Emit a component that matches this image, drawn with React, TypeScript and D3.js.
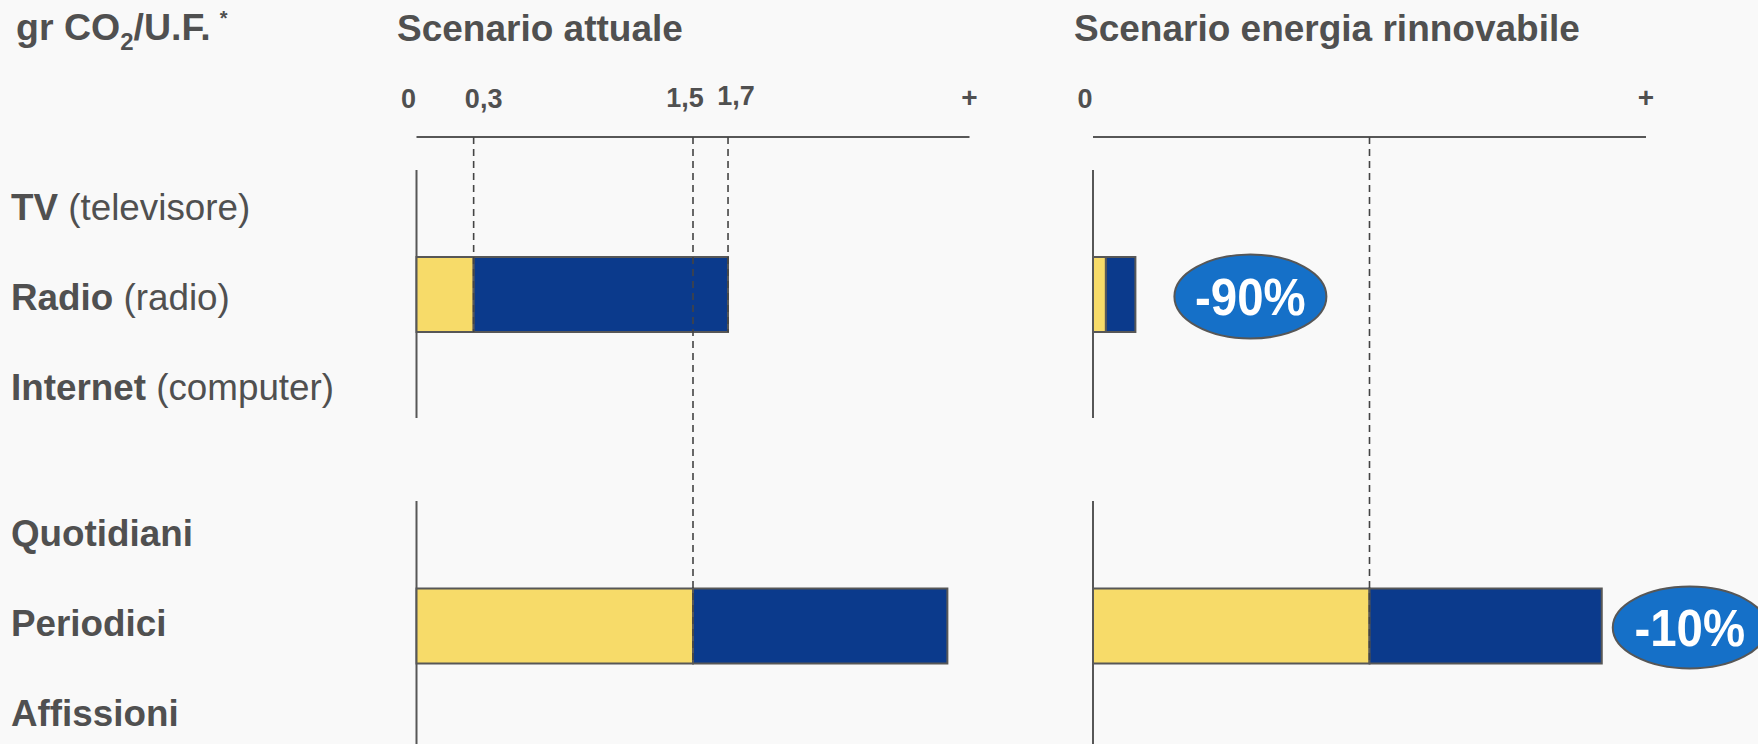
import React, { useEffect } from "react";
import * as d3 from "d3";

// ---------- data ----------
const CATEGORY_BOLD = ["TV", "Radio", "Internet", "Quotidiani", "Periodici", "Affissioni"];
const CATEGORY_NOTE = ["(televisore)", "(radio)", "(computer)", "", "", ""];
const CATEGORY_GROUP = [0, 0, 0, 1, 1, 1];

const SCENARIOS = ["Scenario attuale", "Scenario energia rinnovabile"];
const BAR_CATEGORIES = ["Radio", "Periodici"];

const ATTUALE_YELLOW = [0.31, 1.5];
const ATTUALE_BLUE = [1.38, 1.38];
const RINNOVABILE_YELLOW = [0.07, 1.5];
const RINNOVABILE_BLUE = [0.16, 1.26];

const ATTUALE_TICKS = [0, 0.31, 1.5, 1.69];
const ATTUALE_TICK_LABELS = ["0", "0,3", "1,5", "1,7"];
const RINNOVABILE_TICKS = [0];
const RINNOVABILE_TICK_LABELS = ["0"];
const AXIS_END_LABEL = "+";

const ATTUALE_REF_VALUES = [0.31, 1.5, 1.69];
const ATTUALE_REF_TARGET = ["Radio", "Periodici", "Radio"];
const RINNOVABILE_REF_VALUES = [1.5];
const RINNOVABILE_REF_TARGET = ["Periodici"];

const REDUCTION_LABELS = ["-90%", "-10%"];

const DOMAIN_MAX = 3;

// ---------- style / layout ----------
const W = 1758;
const H = 744;
const TEXT = "#505050";
const LINE = "#575757";
const YELLOW = "#F7DB69";
const BLUE = "#0B3A8C";
const BADGE = "#1570C8";
const BG = "#F9F9F9";
const FONT = "'Liberation Sans', Arial, Helvetica, sans-serif";

const AXIS_Y = 137;
const BAR_H = 75;
const BAR_DY = [-2.5, 3];
const TICK_DX = [-8, 10, -8, 8];
const TICK_DY = [0, 0, -1, -3];
const BADGE_GAP = [39, 11];
const BADGE_RX = [76, 77];
const BADGE_RY = [42, 41];
const BADGE_DY = [2, 1.5];

export default function App() {
  useEffect(() => {
    document.body.style.margin = "0";
  }, []);

  const xAtt = d3.scaleLinear().domain([0, DOMAIN_MAX]).range([416.5, 969.5]);
  const xRin = d3.scaleLinear().domain([0, DOMAIN_MAX]).range([1093, 1646]);

  // row centres: uniform step with an extra gap between the two groups
  const rowIndex = d3.scaleLinear().domain([0, 5]).range([207, 657]);
  const GROUP_GAP = 56;
  const rowY = (name: string) => {
    const i = CATEGORY_BOLD.indexOf(name);
    return rowIndex(i) + CATEGORY_GROUP[i] * GROUP_GAP;
  };
  const barY = (bi: number) => rowY(BAR_CATEGORIES[bi]) + BAR_DY[bi];

  const groupSpans = [
    [170, rowY("Internet") + 31],
    [501, H],
  ];

  const panels = [
    {
      title: SCENARIOS[0],
      titleX: 397,
      x: xAtt,
      yellow: ATTUALE_YELLOW,
      blue: ATTUALE_BLUE,
      ticks: ATTUALE_TICKS,
      tickLabels: ATTUALE_TICK_LABELS,
      refs: ATTUALE_REF_VALUES,
      refTargets: ATTUALE_REF_TARGET,
      badges: [] as string[],
    },
    {
      title: SCENARIOS[1],
      titleX: 1074,
      x: xRin,
      yellow: RINNOVABILE_YELLOW,
      blue: RINNOVABILE_BLUE,
      ticks: RINNOVABILE_TICKS,
      tickLabels: RINNOVABILE_TICK_LABELS,
      refs: RINNOVABILE_REF_VALUES,
      refTargets: RINNOVABILE_REF_TARGET,
      badges: REDUCTION_LABELS,
    },
  ];

  return (
    <svg
      width={W}
      height={H}
      style={{ position: "fixed", left: 0, top: 0, display: "block" }}
      fontFamily={FONT}
    >
      <rect x={0} y={0} width={W} height={H} fill={BG} />

      {/* unit label */}
      <text x={16} y={39.5} fill={TEXT} fontWeight="bold" fontSize={37.5}>
        gr CO
        <tspan fontSize={24} dy={10.5}>2</tspan>
        <tspan dy={-10.5}>/U.F.</tspan>
        <tspan fontSize={20} dx={9} dy={-15}>*</tspan>
      </text>

      {/* category labels */}
      {CATEGORY_BOLD.map((c, i) => (
        <text key={c} x={11} y={rowY(c) + 13} fill={TEXT} fontSize={36.8}>
          <tspan fontWeight="bold">{c}</tspan>
          {CATEGORY_NOTE[i] ? <tspan>{" " + CATEGORY_NOTE[i]}</tspan> : null}
        </text>
      ))}

      {panels.map((p, pi) => {
        const [x0, x1] = p.x.range();
        return (
          <g key={pi}>
            <text x={p.titleX} y={40.5} fill={TEXT} fontWeight="bold" fontSize={37}>
              {p.title}
            </text>

            {/* top axis */}
            <line x1={x0} x2={x1} y1={AXIS_Y} y2={AXIS_Y} stroke={LINE} strokeWidth={2} />
            {p.ticks.map((t, ti) => (
              <text
                key={ti}
                x={p.x(t) + TICK_DX[ti]}
                y={108 + TICK_DY[ti]}
                textAnchor="middle"
                fill={TEXT}
                fontWeight="bold"
                fontSize={27}
              >
                {p.tickLabels[ti]}
              </text>
            ))}
            <text x={x1} y={107} textAnchor="middle" fill={TEXT} fontWeight="bold" fontSize={28}>
              {AXIS_END_LABEL}
            </text>

            {/* group baselines */}
            {groupSpans.map(([a, b], gi) => (
              <line key={gi} x1={x0} x2={x0} y1={a} y2={b} stroke={LINE} strokeWidth={2} />
            ))}

            {/* stacked bars */}
            {BAR_CATEGORIES.map((c, bi) => {
              const cy = barY(bi);
              const yv = p.yellow[bi];
              const total = yv + p.blue[bi];
              return (
                <g key={c}>
                  <rect
                    x={p.x(0)}
                    y={cy - BAR_H / 2}
                    width={p.x(yv) - p.x(0)}
                    height={BAR_H}
                    fill={YELLOW}
                    stroke={LINE}
                    strokeWidth={2}
                  />
                  <rect
                    x={p.x(yv)}
                    y={cy - BAR_H / 2}
                    width={p.x(total) - p.x(yv)}
                    height={BAR_H}
                    fill={BLUE}
                    stroke={LINE}
                    strokeWidth={2}
                  />
                </g>
              );
            })}

            {/* dashed reference lines */}
            {p.refs.map((v, ri) => (
              <line
                key={ri}
                x1={p.x(v)}
                x2={p.x(v)}
                y1={AXIS_Y}
                y2={barY(BAR_CATEGORIES.indexOf(p.refTargets[ri])) + BAR_H / 2}
                stroke="#444"
                strokeWidth={1.6}
                strokeDasharray="7,5"
              />
            ))}

            {/* reduction badges */}
            {p.badges.map((lab, bi) => {
              const end = p.x(p.yellow[bi] + p.blue[bi]);
              const cx = end + BADGE_GAP[bi] + BADGE_RX[bi];
              const cy = barY(bi) + BADGE_DY[bi];
              return (
                <g key={lab}>
                  <ellipse
                    cx={cx}
                    cy={cy}
                    rx={BADGE_RX[bi]}
                    ry={BADGE_RY[bi]}
                    fill={BADGE}
                    stroke={LINE}
                    strokeWidth={2}
                  />
                  <g transform={`translate(${cx},${cy + 18}) scale(0.93,1)`}>
                    <text textAnchor="middle" fill="#fff" fontWeight="bold" fontSize={51}>
                      {lab}
                    </text>
                  </g>
                </g>
              );
            })}
          </g>
        );
      })}
    </svg>
  );
}
